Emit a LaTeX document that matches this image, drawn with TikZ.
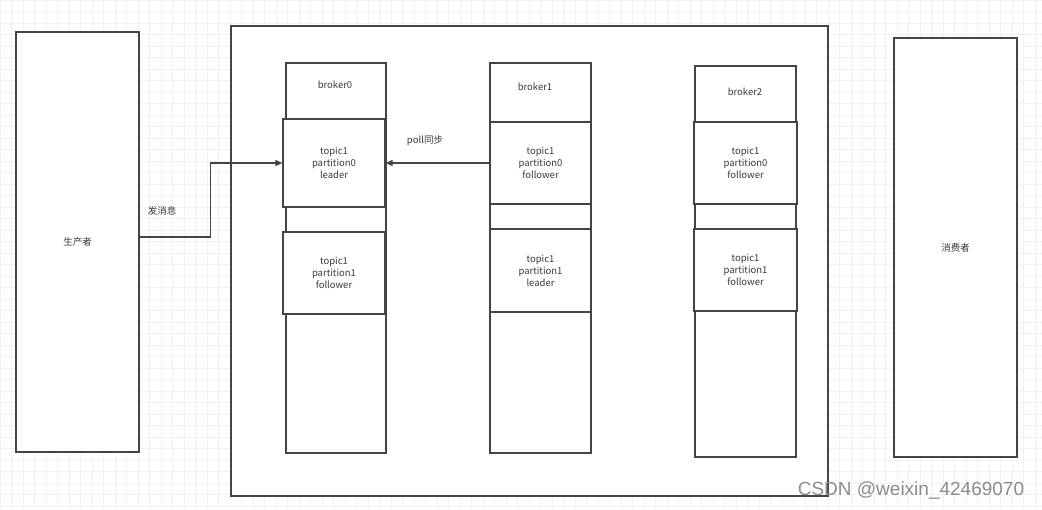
\documentclass[tikz,border=0pt]{standalone}
\usepackage{fontspec}
\setmainfont{Noto Sans CJK SC}
\newfontfamily\markfont{Liberation Sans}
\usetikzlibrary{arrows.meta,positioning}
\definecolor{gridgray}{HTML}{F1F1F1}
\definecolor{edgegray}{HTML}{444444}
\definecolor{textgray}{HTML}{3A3A3A}
\tikzset{
    kafka diagram/.style = {x=1pt, y=-1pt,
                            >={Triangle[length=7pt, width=6pt]}},
    line/.style        = {line width=1.1pt, draw=edgegray},
    block/.style       = {draw=edgegray, line width=1.2pt, fill=white,
                          font=\fontsize{9.5}{12}\selectfont,
                          text=textgray},
    column/.style      = {block, minimum width=100pt, minimum height=390pt},
    partbox/.style     = {block, align=center, minimum width=102pt,
                          minimum height=82pt},
    role/.style        = {block, minimum width=123pt, minimum height=420pt},
    sig/.style         = {font=\fontsize{9.5}{12}\selectfont, text=textgray},
    gridline/.style    = {draw=gridgray, line width=0.6pt}
}

\begin{document}
\begin{tikzpicture}[kafka diagram]
\useasboundingbox (0,0) rectangle (1042,509);
\fill[white] (0,0) rectangle (1042,509);
\draw[gridline] (0pt,0pt) grid[step=11.5pt] (1042,509);

% Producer, consumer and the cluster frame.
\node[role] (producer) at (77.5,242) {生产者};
\node[role, minimum height=419pt] (consumer) at (955.5,247.5) {消费者};
\node[block, minimum width=597pt, minimum height=470pt]
    (cluster) at (529.5,261) {};

% Broker columns with their names.
\node[column] (broker0) at (336,258) {};
\node[column, minimum width=101pt] (broker1) at (540.5,258) {};
\node[column, minimum width=101pt, minimum height=391pt]
    (broker2) at (745.5,261.5) {};
\node[sig] (name0) at (335,85) {broker0};
\node[sig] (name1) at (535,87) {broker1};
\node[sig] (name2) at (745,92) {broker2};

% Partition replicas.
\node[partbox, minimum height=88pt] (p00) at (334,163)
    {topic1\\partition0\\leader};
\node[partbox] (p01) at (334,273) {topic1\\partition1\\follower};
\node[partbox, minimum width=101pt] (p10) at (540.5,163)
    {topic1\\partition0\\follower};
\node[partbox, minimum width=101pt, minimum height=83pt] (p11)
    at (540.5,270.5) {topic1\\partition1\\leader};
\node[partbox, minimum width=103pt] (p20) at (745.5,163)
    {topic1\\partition0\\follower};
\node[partbox, minimum width=103pt] (p21) at (745.5,270)
    {topic1\\partition1\\follower};

% Messages sent by the producer, followers pulling from the leader.
\draw[->, line] ([yshift=5pt]producer.east) -- ++(71,0) |- (p00.west);
\node[sig] (sendlabel) at (162,211) {发消息};
\draw[->, line] (p10.west) -- (p00.east);
\node[sig] (polllabel) at (425,141) {poll同步};

% Watermark.
\node[font=\markfont\fontsize{19}{22}\selectfont, text=black!45] (mark)
    at (911,490) {CSDN @weixin\_42469070};

\end{tikzpicture}
\end{document}
